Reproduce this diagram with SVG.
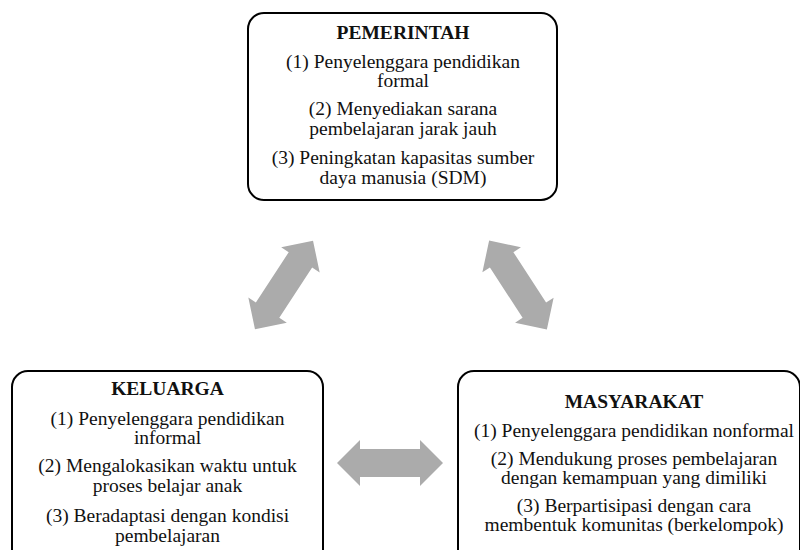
<svg xmlns="http://www.w3.org/2000/svg" width="800" height="550" viewBox="0 0 800 550">
<style>
.box{fill:#fff;stroke:#000;stroke-width:2}
text{font-family:'Liberation Serif','Times New Roman','DejaVu Serif',serif;font-size:19.5px;fill:#111;text-anchor:middle}
.h{font-weight:bold}
.arr{fill:#ABABAB}
</style>
<defs>
<polygon id="dbl" points="-53,0 -30,-23 -30,-14 30,-14 30,-23 53,0 30,23 30,14 -30,14 -30,23"/>
</defs>
<rect width="800" height="550" fill="#fff"/>
<g id="connectors">
<use href="#dbl" class="arr" transform="translate(284,285) rotate(-56.8)"/>
<use href="#dbl" class="arr" transform="translate(518,285) rotate(57)"/>
<use href="#dbl" class="arr" transform="translate(390,463)"/>
</g>
<g id="pemerintah" font-family="Liberation Serif, serif">
<rect class="box" x="248" y="13" width="309" height="187" rx="16"/>
<text class="h" x="403" y="39">PEMERINTAH</text>
<text x="403" y="68">(1) Penyelenggara pendidikan</text>
<text x="403" y="87">formal</text>
<text x="403" y="115">(2) Menyediakan sarana</text>
<text x="403" y="135">pembelajaran jarak jauh</text>
<text x="403" y="164">(3) Peningkatan kapasitas sumber</text>
<text x="403" y="184">daya manusia (SDM)</text>
</g>
<g id="keluarga">
<rect class="box" x="12" y="371" width="311" height="200" rx="16"/>
<text class="h" x="167.5" y="395">KELUARGA</text>
<text x="167.5" y="425">(1) Penyelenggara pendidikan</text>
<text x="167.5" y="444">informal</text>
<text x="167.5" y="472">(2) Mengalokasikan waktu untuk</text>
<text x="167.5" y="492">proses belajar anak</text>
<text x="167.5" y="522">(3) Beradaptasi dengan kondisi</text>
<text x="167.5" y="542">pembelajaran</text>
</g>
<g id="masyarakat">
<rect class="box" x="458" y="371" width="342" height="200" rx="16"/>
<text class="h" x="634" y="408">MASYARAKAT</text>
<text x="634" y="437">(1) Penyelenggara pendidikan nonformal</text>
<text x="634" y="465">(2) Mendukung proses pembelajaran</text>
<text x="634" y="484">dengan kemampuan yang dimiliki</text>
<text x="634" y="512">(3) Berpartisipasi dengan cara</text>
<text x="634" y="531">membentuk komunitas (berkelompok)</text>
</g>
</svg>
